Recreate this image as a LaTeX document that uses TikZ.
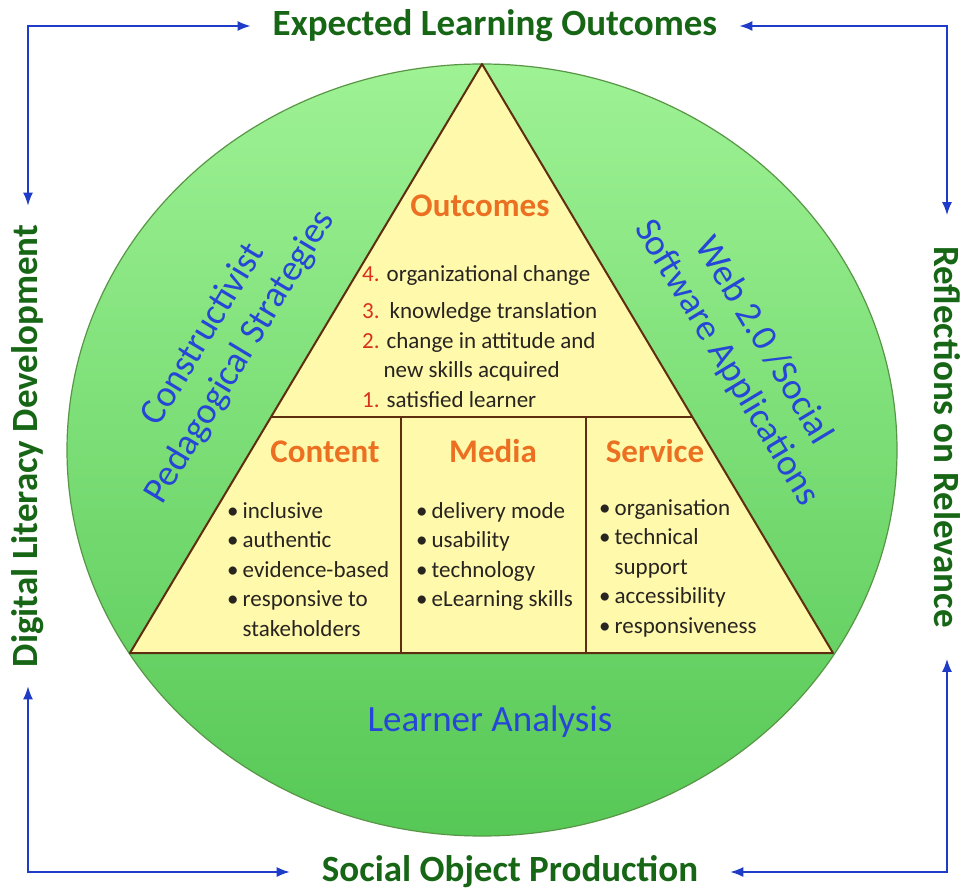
\documentclass[tikz,border=0pt]{standalone}
\usepackage{fontspec}
\setmainfont{Carlito}
\usetikzlibrary{arrows.meta}
\usetikzlibrary{calc}
\definecolor{labelgreen}{RGB}{22,102,22}
\definecolor{arrowblue}{RGB}{30,60,200}
\definecolor{ringtop}{RGB}{158,242,148}
\definecolor{ringbottom}{RGB}{86,200,86}
\definecolor{ringedge}{RGB}{88,150,70}
\definecolor{pyramidfill}{RGB}{255,249,172}
\definecolor{pyramidedge}{RGB}{95,45,15}
\definecolor{slopeblue}{RGB}{38,70,215}
\definecolor{headorange}{RGB}{236,112,34}
\definecolor{numred}{RGB}{215,50,30}
\definecolor{itemgray}{RGB}{40,36,32}
\tikzset{loop arrow/.style = {draw=arrowblue, line width=1.5pt,
                              {Latex[length=13pt,width=10pt]}-{Latex[length=13pt,width=10pt]}}}
\tikzset{side label/.style = {text=labelgreen, inner xsep=22pt, inner ysep=0pt,
                              font=\fontsize{37}{40}\selectfont\bfseries}}
\tikzset{slope label/.style = {text=slopeblue, align=center,
                               font=\fontsize{37}{43}\selectfont}}
\tikzset{pyramid/.style = {fill=pyramidfill, draw=pyramidedge, line width=2pt, line join=round}}
\tikzset{divider/.style = {draw=pyramidedge, line width=1.2pt}}
\tikzset{head/.style = {text=headorange, anchor=base, inner sep=0,
                        font=\fontsize{33}{36}\selectfont\bfseries}}
\tikzset{items/.style = {text=itemgray, anchor=base west, inner sep=0,
                         font=\fontsize{23}{29.5}\selectfont}}
\newcommand{\rank}[1]{\textcolor{numred}{#1}}

\begin{document}
\begin{tikzpicture}[x=1pt, y=-1pt]
    \useasboundingbox (0,0) rectangle (964,890);

    \shadedraw[top color=ringtop, bottom color=ringbottom, draw=ringedge, line width=1.2pt]
        (482,450) ellipse [x radius=415pt, y radius=386pt];

    \coordinate (apex) at (482,64);
    \coordinate (base left) at (130,653);
    \coordinate (base right) at (833,653);
    \draw [pyramid] (apex) -- (base left) -- (base right) -- cycle;

    \draw [divider] ($(apex)!0.5993!(base left)$) -- ($(apex)!0.5993!(base right)$);
    \draw [divider] (401,417) -- (401,653);
    \draw [divider] (586,417) -- (586,653);

    \node [head] (outcomes) at (480,217) {Outcomes};
    \node [head] (content) at (325,462) {Content};
    \node [head] (media) at (493,462) {Media};
    \node [head] (service) at (655,462) {Service};

    \node [items] (outcome list) at (362,282) {\begin{tabular}[t]{@{}l@{\hspace{7pt}}l@{}}
        \rank{4.} & organizational change\\[7.5pt]
        \rank{3.} & \hspace{3pt}knowledge translation\\
        \rank{2.} & change in attitude and\\
                  & \hspace{-3pt}new skills acquired\\
        \rank{1.} & satisfied learner
    \end{tabular}};

    \node [items] (content list) at (227,518) {\begin{tabular}[t]{@{}l@{\hspace{4pt}}l@{}}
        • & inclusive\\
        • & authentic\\
        • & evidence-based\\
        • & responsive to\\
          & stakeholders
    \end{tabular}};

    \node [items] (media list) at (416,518) {\begin{tabular}[t]{@{}l@{\hspace{4pt}}l@{}}
        • & delivery mode\\
        • & usability\\
        • & technology\\
        • & eLearning skills
    \end{tabular}};

    \node [items] (service list) at (599,515) {\begin{tabular}[t]{@{}l@{\hspace{4pt}}l@{}}
        • & organisation\\
        • & technical\\
          & support\\
        • & accessibility\\
        • & responsiveness
    \end{tabular}};

    \node [slope label, rotate=59] (pedagogy) at (222,346) {Constructivist\\Pedagogical Strategies};
    \node [slope label, rotate=-59] (web) at (745,352) {Web 2.0 /Social\\Software Applications};
    \node [slope label] (learner) at (490,722) {Learner Analysis};

    \node [side label] (expected) at (495,26) {Expected Learning Outcomes};
    \node [side label, inner xsep=32pt] (social) at (510,872) {Social Object Production};
    \node [side label, rotate=90, inner xsep=19pt] (digital) at (28,446) {Digital Literacy Development};
    \node [side label, rotate=-90, inner xsep=31pt] (reflect) at (947,437) {Reflections on Relevance};

    \draw [loop arrow] (digital.east) |- (expected.west);
    \draw [loop arrow] (reflect.west) |- (expected.east);
    \draw [loop arrow] (digital.west) |- (social.west);
    \draw [loop arrow] (reflect.east) |- (social.east);
\end{tikzpicture}
\end{document}
